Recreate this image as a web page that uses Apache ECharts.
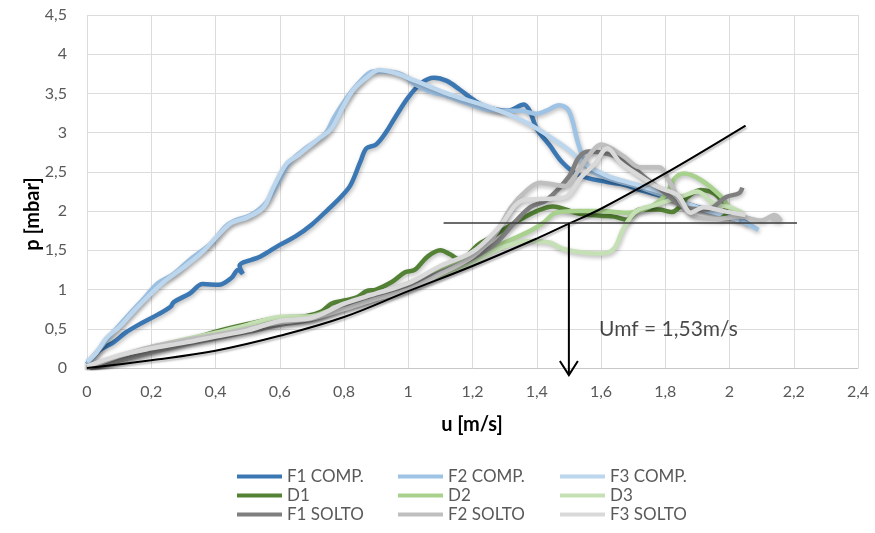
<!DOCTYPE html>
<html>
<head>
<meta charset="utf-8">
<script src="https://cdn.jsdelivr.net/npm/echarts@6/dist/echarts.min.js"></script>
<style>
  html, body { margin: 0; padding: 0; background: #ffffff; }
  #chart { width: 875px; height: 533px; }
</style>
</head>
<body>
<div id="chart"></div>
<script>
// Pressure drop p [mbar] against superficial velocity u [m/s], pairs of [u, p]
const f1Comp = [[0,0.05],[0.01,0.1],[0.04,0.23],[0.08,0.32],[0.12,0.45],[0.16,0.55],[0.22,0.68],[0.26,0.78],[0.27,0.84],[0.32,0.95],[0.36,1.07],[0.41,1.06],[0.45,1.15],[0.47,1.25],[0.485,1.2],[0.475,1.3],[0.54,1.42],[0.6,1.57],[0.65,1.68],[0.7,1.83],[0.75,2.02],[0.79,2.18],[0.82,2.33],[0.85,2.62],[0.87,2.8],[0.9,2.85],[0.93,3.0],[0.96,3.2],[1.0,3.45],[1.04,3.63],[1.08,3.7],[1.12,3.66],[1.16,3.55],[1.21,3.4],[1.25,3.32],[1.31,3.28],[1.36,3.36],[1.38,3.26],[1.4,3.05],[1.44,2.84],[1.48,2.62],[1.53,2.46],[1.62,2.37],[1.67,2.34],[1.72,2.27],[1.8,2.18],[1.86,2.1],[1.93,2.02],[2.01,1.95],[2.06,1.83]];
const f2Comp = [[0,0.05],[0.02,0.15],[0.05,0.3],[0.08,0.45],[0.13,0.68],[0.18,0.9],[0.22,1.08],[0.27,1.2],[0.32,1.38],[0.39,1.6],[0.43,1.8],[0.46,1.88],[0.51,1.95],[0.56,2.12],[0.6,2.4],[0.63,2.62],[0.68,2.8],[0.74,2.98],[0.77,3.2],[0.81,3.45],[0.85,3.65],[0.89,3.78],[0.93,3.78],[0.98,3.74],[1.02,3.62],[1.07,3.52],[1.12,3.47],[1.18,3.38],[1.24,3.3],[1.3,3.28],[1.35,3.28],[1.4,3.24],[1.43,3.28],[1.47,3.35],[1.5,3.28],[1.53,2.85],[1.56,2.55],[1.62,2.42],[1.7,2.33],[1.78,2.22],[1.86,2.1],[1.93,2.0],[2.0,1.92],[2.05,1.85],[2.09,1.76]];
const f3Comp = [[0,0.08],[0.03,0.2],[0.06,0.38],[0.1,0.52],[0.14,0.7],[0.2,0.95],[0.24,1.1],[0.3,1.28],[0.36,1.48],[0.41,1.7],[0.45,1.85],[0.5,1.92],[0.55,2.05],[0.58,2.3],[0.62,2.6],[0.66,2.72],[0.72,2.92],[0.76,3.05],[0.8,3.35],[0.83,3.55],[0.87,3.7],[0.91,3.8],[0.96,3.76],[1.01,3.68],[1.06,3.6],[1.12,3.5],[1.18,3.42],[1.25,3.33],[1.32,3.22],[1.38,3.1],[1.44,2.95],[1.5,2.78],[1.55,2.6],[1.62,2.45],[1.7,2.35],[1.78,2.25],[1.85,2.12],[1.92,2.02],[1.98,1.95],[2.03,1.88]];
const d1 = [[0,0],[0.1,0.1],[0.19,0.2],[0.3,0.33],[0.39,0.45],[0.5,0.56],[0.6,0.64],[0.68,0.66],[0.73,0.72],[0.76,0.82],[0.8,0.86],[0.84,0.9],[0.87,0.98],[0.9,1.0],[0.95,1.1],[0.99,1.22],[1.02,1.25],[1.06,1.42],[1.1,1.5],[1.13,1.45],[1.16,1.38],[1.22,1.58],[1.28,1.72],[1.33,1.85],[1.4,2.0],[1.45,2.06],[1.53,1.97],[1.6,1.94],[1.64,1.93],[1.68,1.89],[1.72,2.02],[1.78,2.02],[1.82,1.99],[1.87,2.18],[1.91,2.27],[1.96,2.2],[1.99,1.98],[1.97,1.9]];
const d2 = [[0,0],[0.1,0.12],[0.2,0.24],[0.3,0.33],[0.4,0.42],[0.5,0.52],[0.6,0.6],[0.7,0.66],[0.8,0.8],[0.9,0.92],[1.0,1.08],[1.1,1.25],[1.2,1.42],[1.3,1.6],[1.38,1.75],[1.42,1.85],[1.46,1.98],[1.53,2.0],[1.6,2.0],[1.68,1.98],[1.75,2.05],[1.8,2.2],[1.83,2.42],[1.86,2.48],[1.91,2.4],[1.97,2.2],[2.01,2.0],[2.03,1.95]];
const d3 = [[0,0],[0.1,0.14],[0.2,0.26],[0.3,0.36],[0.4,0.45],[0.5,0.55],[0.6,0.65],[0.7,0.66],[0.8,0.76],[0.9,0.88],[1.0,1.02],[1.1,1.18],[1.2,1.35],[1.3,1.55],[1.38,1.62],[1.44,1.6],[1.48,1.52],[1.53,1.48],[1.6,1.46],[1.64,1.52],[1.67,1.78],[1.71,2.0],[1.77,2.08],[1.82,2.15],[1.86,2.2],[1.9,2.25],[1.95,2.1],[2.0,2.05],[2.04,1.98]];
const f1Solto = [[0,0],[0.1,0.1],[0.2,0.2],[0.3,0.3],[0.4,0.38],[0.5,0.46],[0.6,0.55],[0.7,0.62],[0.8,0.78],[0.9,0.9],[1.0,1.05],[1.1,1.22],[1.2,1.4],[1.27,1.58],[1.33,1.85],[1.38,2.05],[1.43,2.14],[1.5,2.44],[1.53,2.68],[1.56,2.76],[1.61,2.74],[1.67,2.65],[1.74,2.42],[1.8,2.23],[1.86,2.05],[1.93,2.02],[1.99,2.18],[2.03,2.23],[2.04,2.3]];
const f2Solto = [[0,0],[0.1,0.15],[0.2,0.27],[0.3,0.35],[0.4,0.42],[0.5,0.5],[0.6,0.58],[0.7,0.63],[0.8,0.75],[0.9,0.88],[1.0,1.0],[1.1,1.2],[1.2,1.42],[1.27,1.7],[1.32,2.05],[1.37,2.27],[1.41,2.36],[1.49,2.32],[1.53,2.52],[1.57,2.75],[1.6,2.85],[1.67,2.7],[1.72,2.56],[1.78,2.56],[1.81,2.4],[1.85,2.1],[1.89,1.93],[1.96,1.9],[2.03,1.93],[2.1,1.88],[2.14,1.95],[2.16,1.88],[2.13,1.9]];
const f3Solto = [[0,0.02],[0.1,0.16],[0.2,0.25],[0.3,0.32],[0.4,0.4],[0.5,0.48],[0.6,0.6],[0.7,0.64],[0.8,0.82],[0.9,0.95],[1.0,1.08],[1.1,1.3],[1.2,1.48],[1.28,1.78],[1.36,2.14],[1.45,2.16],[1.49,2.18],[1.54,2.44],[1.58,2.6],[1.62,2.8],[1.66,2.62],[1.72,2.45],[1.78,2.3],[1.84,2.2],[1.88,1.98],[1.92,2.05],[1.98,2.0],[2.05,1.95]];

// Reference curve and minimum-fluidisation construction
const fitCurve = [[0,0],[0.2,0.1],[0.4,0.22],[0.6,0.41],[0.8,0.65],[1.0,0.98],[1.2,1.3],[1.4,1.65],[1.5,1.84],[1.6,2.03],[1.8,2.48],[2.05,3.09]];
const plateauLine = [[1.11,1.85],[2.21,1.85]];
const umfDrop = [[1.5,1.85],[1.5,-0.09]];
const umfHead = [[1.472,0.09],[1.5,-0.09],[1.528,0.09]];
const umfLabelAt = [[1.81,0.5]];
const umfText = 'Umf = 1,53m/s';

const seriesNames = ['F1 COMP.','F2 COMP.','F3 COMP.','D1','D2','D3','F1 SOLTO','F2 SOLTO','F3 SOLTO'];
const seriesData = [f1Comp, f2Comp, f3Comp, d1, d2, d3, f1Solto, f2Solto, f3Solto];
const seriesColors = ['#3A77B3','#9EC3E5','#BCD6EE','#548235','#A9D18E','#C5E0B4','#7F7F7F','#BFBFBF','#D9D9D9'];

const xTicks = { min: 0, max: 2.4, step: 0.2 };
const yTicks = { min: 0, max: 4.5, step: 0.5 };

const FONT = 'Lato, "Open Sans", sans-serif';
const decimalComma = v => String(Math.round(v * 10) / 10).replace('.', ',');

const shadow = { shadowColor: 'rgba(0,0,0,0.28)', shadowBlur: 4, shadowOffsetX: 1, shadowOffsetY: 2 };

const dataSeries = seriesNames.map((name, i) => ({
  name: name,
  type: 'line',
  data: seriesData[i],
  smooth: 0.35,
  showSymbol: false,
  symbol: 'none',
  color: seriesColors[i],
  lineStyle: Object.assign({ width: 4.5, color: seriesColors[i] }, shadow),
  z: 2 + i
}));

const annotationSeries = [
  { type: 'line', data: fitCurve, smooth: 0.4, symbol: 'none', silent: true, z: 20,
    lineStyle: Object.assign({ width: 2, color: '#000000' }, shadow, { shadowBlur: 2 }) },
  { type: 'line', data: plateauLine, symbol: 'none', silent: true, z: 21,
    lineStyle: { width: 1.5, color: '#3a3a3a' } },
  { type: 'line', data: umfDrop, symbol: 'none', silent: true, z: 22, clip: false,
    lineStyle: { width: 2, color: '#000000' } },
  { type: 'line', data: umfHead, symbol: 'none', silent: true, z: 22, clip: false,
    lineStyle: { width: 2, color: '#000000', join: 'miter' } },
  { type: 'scatter', data: umfLabelAt, symbolSize: 0, silent: true, z: 23,
    label: { show: true, position: 'inside', formatter: umfText,
             fontFamily: FONT, fontSize: 21, color: '#1a1a1a' } }
];

const legendColumn = (names, left) => ({
  data: names,
  orient: 'vertical',
  left: left,
  top: 467,
  padding: 0,
  icon: 'rect',
  itemWidth: 45,
  itemHeight: 4,
  itemGap: 0,
  selectedMode: false,
  textStyle: { fontFamily: FONT, fontSize: 17, color: '#595959', lineHeight: 19 }
});

const chart = echarts.init(document.getElementById('chart'), null, { renderer: 'canvas' });
chart.setOption({
  animation: false,
  backgroundColor: '#ffffff',
  grid: { left: 87, right: 17, top: 15, bottom: 165, containLabel: false },
  xAxis: {
    type: 'value', min: xTicks.min, max: xTicks.max, interval: xTicks.step,
    axisLine: { show: true, lineStyle: { color: '#C8C8C8', width: 1 } },
    axisTick: { show: false },
    axisLabel: { formatter: decimalComma, fontFamily: FONT, fontSize: 16, color: '#595959', margin: 16 },
    splitLine: { show: true, lineStyle: { color: '#DCDCDC', width: 1 } }
  },
  yAxis: {
    type: 'value', min: yTicks.min, max: yTicks.max, interval: yTicks.step,
    axisLine: { show: false },
    axisTick: { show: false },
    axisLabel: { formatter: decimalComma, fontFamily: FONT, fontSize: 16, color: '#595959', margin: 20 },
    splitLine: { show: true, lineStyle: { color: '#DCDCDC', width: 1 } }
  },
  legend: [
    legendColumn([seriesNames[0], seriesNames[3], seriesNames[6]], 237),
    legendColumn([seriesNames[1], seriesNames[4], seriesNames[7]], 398),
    legendColumn([seriesNames[2], seriesNames[5], seriesNames[8]], 560)
  ],
  graphic: [
    { type: 'text', x: 33, y: 214, rotation: Math.PI / 2,
      style: { text: 'p [mbar]', fontFamily: FONT, fontSize: 20, fontWeight: 'bold', fill: '#000000',
               align: 'center', verticalAlign: 'middle' } },
    { type: 'text', x: 472, y: 425,
      style: { text: 'u [m/s]', fontFamily: FONT, fontSize: 20, fontWeight: 'bold', fill: '#000000',
               align: 'center', verticalAlign: 'middle' } }
  ],
  series: dataSeries.concat(annotationSeries)
});
</script>
</body>
</html>
